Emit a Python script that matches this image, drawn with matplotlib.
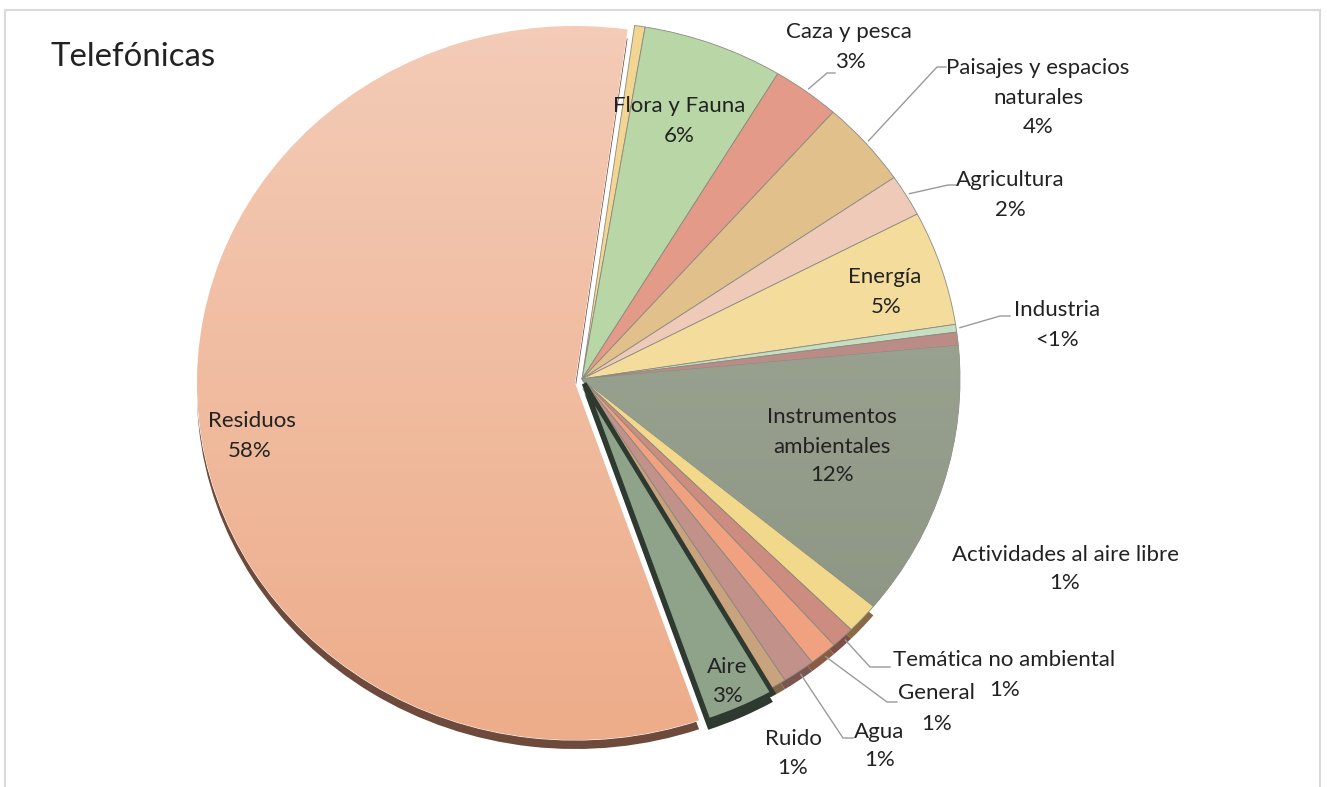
import matplotlib.pyplot as plt
import numpy as np
from matplotlib.patches import Rectangle, Wedge
from matplotlib.colors import LinearSegmentedColormap

plt.rcParams['font.family'] = ['Lato', 'DejaVu Sans']

# %% data (share of calls, clockwise from the top)
labels = ["", "Flora y Fauna", "Caza y pesca", "Paisajes y espacios\nnaturales",
          "Agricultura", "Energía", "Industria", "", "Instrumentos\nambientales",
          "Actividades al aire libre", "Temática no ambiental", "General", "Agua",
          "Ruido", "Aire", "Residuos"]
values = [0.45, 6.0, 2.9, 3.9, 1.9, 5.2, 0.35, 0.6, 12.5, 1.4, 1.0, 1.2, 1.4, 0.7, 3.0, 57.6]
pct_text = ["", "6%", "3%", "4%", "2%", "5%", "<1%", "", "12%", "1%", "1%", "1%", "1%",
            "1%", "3%", "58%"]
colours = ["#f2d590", "#b8d6a6", "#e39a88", "#e1c08c", "#efcab9", "#f4dd9c", "#c6dec2",
           "#bb8c86", "#969f8d", "#f2d88b", "#cc8c80", "#f0a17f", "#c1918a", "#c9a37d",
           "#8fa38b", "#efb99c"]
shadow_col = [None, None, None, None, None, None, None, None, None, "#8a6a45", "#7d4f45",
              "#8b5a44", "#7b5550", "#7f6448", "#2e3a2f", "#6d4a3b"]

# %% layout (pixels of the 1327x787 picture)
W, H = 1327, 787
cx, cy, rx, ry = 582, 379, 378, 357

def px(x, y):
    return (x - cx) / rx, (cy - y) / ry

# centre of the name block and of the percentage
name_pos = {1: (679, 106), 2: (849, 32), 3: (1038, 83), 4: (1010, 180), 5: (885, 277),
            6: (1057, 310), 8: (832, 432), 9: (1065, 555), 10: (1004, 660),
            11: (936, 693), 12: (879, 732), 13: (793, 739), 14: (727, 667), 15: (252, 421)}
pct_pos = {1: (679, 136), 2: (850, 62), 3: (1038, 127), 4: (1010, 210), 5: (886, 307),
           6: (1057, 340), 8: (832, 475), 9: (1065, 583), 10: (1005, 690),
           11: (937, 724), 12: (880, 760), 13: (793, 768), 14: (727, 696), 15: (250, 451)}
# leader elbows and ends
leaders = {2: [(827, 73), (835, 73)], 3: [(937, 67), (946, 67)], 4: [(948, 185), (956, 185)],
           6: [(1000, 316), (1010, 316)], 10: [(870, 667), (890, 667)],
           11: [(887, 702), (897, 702)], 12: [(843, 738), (853, 738)]}

# %%
fig = plt.figure(figsize=(W / 100, H / 100), dpi=100)
ax = fig.add_axes([0, 0, 1, 1])

explode = [0] * len(values)
explode[14] = 0.014
wedges, _ = ax.pie(values, colors=colours, startangle=82, counterclock=False,
                   explode=explode, radius=1, center=(0, 0),
                   wedgeprops=dict(linewidth=0.6, edgecolor="#8a8a80"))

# Residuos pushed out to the lower left
wedges[15].set_center((-7 / rx, -4 / ry))
wedges[15].set_edgecolor("white")
wedges[15].set_linewidth(0.8)
wedges[14].set_edgecolor("#2e3a2f")
wedges[14].set_linewidth(3.5)

# 3D rim under the lower slices
for i, w in enumerate(wedges):
    if shadow_col[i] is None:
        continue
    c = w.center
    sh = Wedge((c[0], c[1] - 9 / ry), w.r, w.theta1, w.theta2,
               facecolor=shadow_col[i], edgecolor="none", zorder=0)
    ax.add_patch(sh)
for w in wedges:
    w.set_zorder(1)
wedges[14].set_zorder(1.8)

# soft gradient on the two big slices
grad = [(15, "#f4cdb9", "#edab88"), (8, "#a6ae9c", "#88917f")]
for i, c_top, c_bot in grad:
    cmap = LinearSegmentedColormap.from_list("g", [c_top, c_bot])
    img = ax.imshow(np.linspace(0, 1, 200).reshape(-1, 1), cmap=cmap, aspect="auto",
                    extent=(-1.1, 1.1, -1.1, 1.1), origin="upper", zorder=1.5)
    img.set_clip_path(wedges[i])

ax.set_aspect("auto")
ax.set_xlim(-cx / rx, (W - cx) / rx)
ax.set_ylim(-(H - cy) / ry, cy / ry)
ax.axis("off")

# labels
for i, (x, y) in name_pos.items():
    ax.text(*px(x, y), labels[i], ha="center", va="center", fontsize=16,
            color="#222222", linespacing=1.6, zorder=5)
for i, (x, y) in pct_pos.items():
    ax.text(*px(x, y), pct_text[i], ha="center", va="center", fontsize=16,
            color="#222222", zorder=5)

# leader lines from the rim of each slice
for i, pts in leaders.items():
    w = wedges[i]
    mid = np.deg2rad((w.theta1 + w.theta2) / 2)
    x0 = w.center[0] + 1.01 * np.cos(mid)
    y0 = w.center[1] + 1.01 * np.sin(mid)
    xs = [x0] + [px(*p)[0] for p in pts]
    ys = [y0] + [px(*p)[1] for p in pts]
    ax.plot(xs, ys, color="#9a9a9a", lw=1, zorder=4)

fig.text(50 / W, 1 - 57 / H, "Telefónicas", fontsize=23.8, ha="left", va="center",
         color="#222222")

fig.add_artist(Rectangle((5 / W, -0.01), 1315 / W, 1 - 10 / H + 0.01, fill=False,
                         edgecolor="#d9d9d9", lw=1.5, transform=fig.transFigure))

plt.savefig("out.png", dpi=100)
